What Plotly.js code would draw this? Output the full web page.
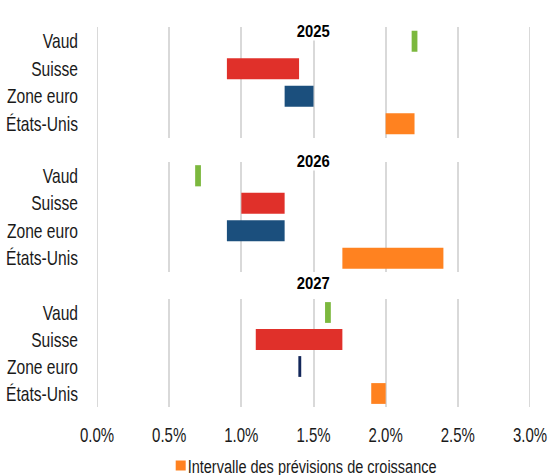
<!DOCTYPE html>
<html>
<head>
<meta charset="utf-8">
<script src="https://cdn.plot.ly/plotly-3.0.1.min.js"></script>
<style>html,body{margin:0;padding:0;background:#fff;}#chart{width:548px;height:475px;}</style>
</head>
<body>
<div id="chart"></div>
<script>
// Data
var categories = ["Vaud", "Suisse", "Zone euro", "États-Unis"];
var years = ["2025", "2026", "2027"];
var low2025 = [2.18, 0.9, 1.3, 2.0];
var high2025 = [2.22, 1.4, 1.5, 2.2];
var low2026 = [0.68, 1.0, 0.9, 1.7];
var high2026 = [0.72, 1.3, 1.3, 2.4];
var low2027 = [1.58, 1.1, 1.395, 1.9];
var high2027 = [1.62, 1.7, 1.415, 2.0];
var xTickVals = [0, 0.5, 1, 1.5, 2, 2.5, 3];
var xTickText = ["0.0%", "0.5%", "1.0%", "1.5%", "2.0%", "2.5%", "3.0%"];
var legendName = "Intervalle des prévisions de croissance";

var lows = [low2025, low2026, low2027];
var highs = [high2025, high2026, high2027];
var colors = ["#7cb83e", "#e0302a", "#1b4f7d", "#ff8220"];
var colors2027 = ["#7cb83e", "#e0302a", "#13275a", "#ff8220"];

var FONT = "'Liberation Sans', Arial, sans-serif";
var TXT = "#1a1a1a";
var traces = [];
years.forEach(function (yr, p) {
  var ax = p === 0 ? "" : String(p + 1);
  categories.forEach(function (c, i) {
    traces.push({
      type: "bar",
      orientation: "h",
      y: [c],
      base: [lows[p][i]],
      x: [highs[p][i] - lows[p][i]],
      width: 0.77,
      marker: { color: (p === 2 ? colors2027 : colors)[i], line: { width: 0 } },
      xaxis: "x" + ax,
      yaxis: "y" + ax,
      name: legendName,
      showlegend: (p === 0 && i === 3),
      hoverinfo: "skip"
    });
  });
});

var domains = [[0.7092, 0.9987], [0.3553, 0.6447], [0, 0.2842]];
var layout = {
  width: 548, height: 475,
  margin: { l: 97, r: 18, t: 27, b: 68 },
  paper_bgcolor: "#fff", plot_bgcolor: "#fff",
  barmode: "overlay",
  showlegend: true,
  font: { family: FONT, size: 18, color: TXT },
  legend: { orientation: "h", x: 0.5, xanchor: "center", xref: "paper",
            y: 0.06, yanchor: "middle", yref: "container", bgcolor: "rgba(0,0,0,0)",
            font: { family: FONT, size: 18.6, color: TXT } },
  annotations: [],
  shapes: []
};
var titleY = [1.0163, 0.674, 0.299];
years.forEach(function (yr, p) {
  var ax = p === 0 ? "" : String(p + 1);
  layout["xaxis" + ax] = {
    range: [0, 3], domain: [0, 1], anchor: "y" + ax,
    tickvals: xTickVals, ticktext: xTickText,
    showticklabels: p === 2,
    ticklabeloverflow: "allow",
    showgrid: true, gridcolor: "#d9d9d9", gridwidth: 2,
    zeroline: false, showline: false,
    ticks: p === 2 ? "outside" : "", ticklen: 10, tickcolor: "rgba(0,0,0,0)",
    tickfont: { family: FONT, size: 20, color: TXT },
    fixedrange: true
  };
  layout["yaxis" + ax] = {
    domain: domains[p], anchor: "x" + ax,
    type: "category", categoryorder: "array", categoryarray: categories,
    range: [3.5, -0.5],
    ticklabeloverflow: "allow",
    showgrid: false, zeroline: false, showline: false,
    ticks: "outside", ticklen: 14, tickcolor: "rgba(0,0,0,0)",
    tickfont: { family: FONT, size: 20, color: TXT },
    fixedrange: true
  };
  layout.annotations.push({
    text: "<b>" + yr + "</b>", xref: "x", yref: "paper", x: 1.5, y: titleY[p],
    showarrow: false, bgcolor: "#fff", borderpad: 0,
    font: { family: FONT, size: 16.5, color: "#000" }
  });
});
[0, 3].forEach(function (xv) {
  layout.shapes.push({ type: "line", xref: "x", yref: "paper", x0: xv, x1: xv, y0: 0, y1: 1,
    line: { color: "#d9d9d9", width: 2 }, layer: "below" });
});

// Narrow the text horizontally (the reference uses a condensed typeface)
function condense(el, s) {
  var x = parseFloat(el.getAttribute("x")) || 0;
  var t = el.getAttribute("transform") || "";
  el.setAttribute("transform", t + " translate(" + x + ",0) scale(" + s + ",1) translate(" + (-x) + ",0)");
}

Plotly.newPlot("chart", traces, layout, { displayModeBar: false, staticPlot: true }).then(function (gd) {
  gd.querySelectorAll(".yaxislayer-above text").forEach(function (el) { condense(el, 0.78); });
  gd.querySelectorAll(".xaxislayer-above text").forEach(function (el) { condense(el, 0.75); });
  gd.querySelectorAll(".annotation-text").forEach(function (el) { condense(el, 0.9); });
  var leg = gd.querySelector("g.legend");
  if (leg) {
    leg.querySelectorAll("[clip-path]").forEach(function (el) { el.removeAttribute("clip-path"); });
    var sym = leg.querySelector(".legendpoints path");
    var txt = leg.querySelector(".legendtext");
    if (sym) sym.setAttribute("d", "M5,5H-5V-5H5Z");
    if (txt) { txt.setAttribute("x", 27); condense(txt, 0.78); }
    if (sym) {
      var r = sym.getBoundingClientRect();
      var dx = 175.7 - r.left, dy = 465.5 - (r.top + r.height / 2);
      var m = /translate\(\s*([-\d.e]+)[ ,]\s*([-\d.e]+)\s*\)/.exec(leg.getAttribute("transform") || "");
      var lx = m ? parseFloat(m[1]) : 0, ly = m ? parseFloat(m[2]) : 0;
      leg.setAttribute("transform", "translate(" + (lx + dx) + "," + (ly + dy) + ")");
    }
  }
});
</script>
</body>
</html>
